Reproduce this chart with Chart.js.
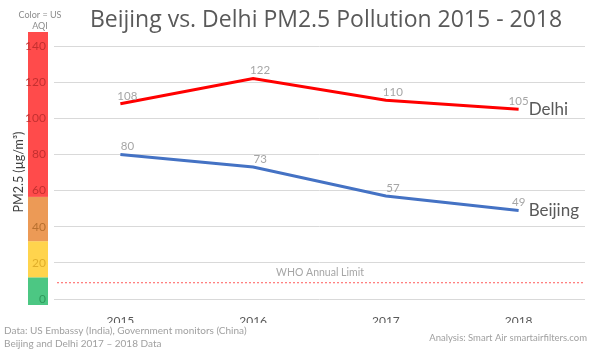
<!DOCTYPE html>
<html>
<head>
<meta charset="utf-8">
<script src="https://cdn.jsdelivr.net/npm/chart.js@4/dist/chart.umd.min.js"></script>
<style>
  html, body { margin: 0; padding: 0; background: #fff; }
  canvas { display: block; }
</style>
</head>
<body>
<canvas id="pmChart" width="604" height="358"></canvas>
<script>
const years = ["2015", "2016", "2017", "2018"];
const delhi = [108, 122, 110, 105];
const beijing = [80, 73, 57, 49];
const yTicks = [0, 20, 40, 60, 80, 100, 120, 140];
const whoLimit = 9;
// AQI colour bands (upper bound of each band)
const aqiBands = [
    { to: 12, fill: "#4cc783", text: "#2f9a5c" },
    { to: 32, fill: "#ffd44d", text: "#e0ae2a" },
    { to: 56.5, fill: "#ec9a56", text: "#b8702f" },
    { to: 150, fill: "#ff4b4b", text: "#c43030" }
];

const TITLE_FONT = "'Open Sans', 'Noto Sans', sans-serif";
const FONT = "Lato, 'Open Sans', sans-serif";

function bandFor(v) {
    return aqiBands.find(b => v <= b.to) || aqiBands[aqiBands.length - 1];
}

const aqiBar = {
    id: "aqiBar",
    beforeDraw(chart) {
        // colour strip sits under the y tick labels
        const ctx = chart.ctx;
        const y = chart.scales.y;
        ctx.save();
        let prev = 0;
        aqiBands.forEach((b, i) => {
            let top = i === aqiBands.length - 1 ? 32 : y.getPixelForValue(b.to);
            let bottom = i === 0 ? 305 : y.getPixelForValue(prev);
            ctx.fillStyle = b.fill;
            ctx.fillRect(28, top, 20, bottom - top);
            prev = b.to;
        });
        ctx.restore();
    },
    beforeDatasetsDraw(chart) {
        const ctx = chart.ctx;
        const y = chart.scales.y;
        const area = chart.chartArea;
        ctx.save();
        // WHO annual limit
        const wy = y.getPixelForValue(whoLimit);
        ctx.strokeStyle = "#ff5a5a";
        ctx.lineWidth = 1;
        ctx.setLineDash([2, 2]);
        ctx.beginPath();
        ctx.moveTo(area.left + 3, wy);
        ctx.lineTo(area.right, wy);
        ctx.stroke();
        ctx.setLineDash([]);
        ctx.fillStyle = "#a6a6a6";
        ctx.font = "10.5px " + FONT;
        ctx.textAlign = "center";
        ctx.textBaseline = "middle";
        ctx.fillText("WHO Annual Limit", 320, wy - 10);
        ctx.restore();
    },
    afterDatasetsDraw(chart) {
        const ctx = chart.ctx;
        ctx.save();
        ctx.textBaseline = "middle";
        chart.data.datasets.forEach((ds, i) => {
            const meta = chart.getDatasetMeta(i);
            const n = meta.data.length;
            meta.data.forEach((pt, j) => {
                ctx.fillStyle = "#a6a6a6";
                ctx.font = "11.5px " + FONT;
                ctx.textAlign = "center";
                const dx = j === n - 1 ? 0 : 7;
                ctx.fillText(String(ds.data[j]), pt.x + dx, pt.y - 8);
            });
            const last = meta.data[n - 1];
            ctx.fillStyle = "#595959";
            ctx.font = "17px " + FONT;
            ctx.textAlign = "left";
            ctx.fillText(ds.label, last.x + 10, last.y);
        });
        ctx.restore();
    },
    afterDraw(chart) {
        const ctx = chart.ctx;
        ctx.save();
        ctx.textBaseline = "middle";
        // title
        ctx.fillStyle = "#595959";
        ctx.font = "23px " + TITLE_FONT;
        ctx.textAlign = "center";
        ctx.fillText("Beijing vs. Delhi PM2.5 Pollution 2015 - 2018", 326, 20);
        // colour note
        ctx.fillStyle = "#8c8c8c";
        ctx.font = "9px " + FONT;
        ctx.fillText("Color = US", 40, 15);
        ctx.fillText("AQI", 40, 26);
        // y axis title
        ctx.save();
        ctx.translate(19, 172);
        ctx.rotate(-Math.PI / 2);
        ctx.fillStyle = "#404040";
        ctx.font = "12.5px " + FONT;
        ctx.fillText("PM2.5 (µg/m³)", 0, 0);
        ctx.restore();
        // footers
        ctx.fillStyle = "#a0a0a0";
        ctx.font = "10px " + FONT;
        ctx.textAlign = "left";
        ctx.fillText("Data: US Embassy (India), Government monitors (China)", 4, 331);
        ctx.fillText("Beijing and Delhi 2017 \u2013 2018 Data", 4, 344);
        ctx.font = "9.5px " + FONT;
        ctx.textAlign = "right";
        ctx.fillText("Analysis: Smart Air smartairfilters.com", 587, 338);
        ctx.restore();
    }
};

new Chart(document.getElementById("pmChart"), {
    type: "line",
    data: {
        labels: years,
        datasets: [
            {
                label: "Delhi",
                data: delhi,
                borderColor: "#ff0000",
                borderWidth: 3,
                pointRadius: 0,
                tension: 0
            },
            {
                label: "Beijing",
                data: beijing,
                borderColor: "#4472c4",
                borderWidth: 3,
                pointRadius: 0,
                tension: 0
            }
        ]
    },
    options: {
        responsive: false,
        animation: false,
        layout: { padding: { left: 0, top: 46, right: 19, bottom: 35 } },
        plugins: {
            legend: { display: false },
            tooltip: { enabled: false }
        },
        scales: {
            x: {
                offset: true,
                grid: { display: false, offset: true },
                border: { display: false },
                ticks: {
                    color: "#595959",
                    font: { family: FONT, size: 12 },
                    padding: 7
                },
                afterFit(scale) { scale.height = 24; }
            },
            y: {
                min: 0,
                max: 140,
                afterBuildTicks(scale) {
                    scale.ticks = yTicks.map(v => ({ value: v }));
                },
                grid: { color: "#d9d9d9", drawTicks: false },
                border: { display: false },
                ticks: {
                    padding: 8,
                    font: { family: FONT, size: 12 },
                    color: ctx => bandFor(ctx.tick.value).text
                },
                afterFit(scale) { scale.width = 54; }
            }
        }
    },
    plugins: [aqiBar]
});
</script>
</body>
</html>
